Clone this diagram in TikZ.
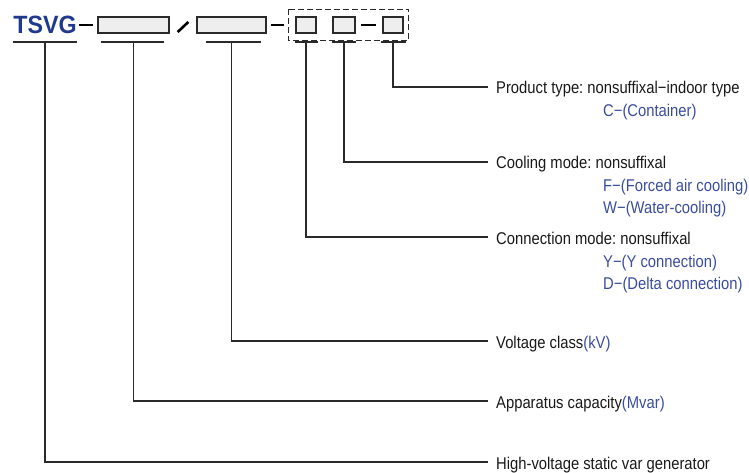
\documentclass[tikz,border=0pt]{standalone}
\usepackage{fontspec}
\setmainfont[FakeStretch=0.87]{Liberation Sans}
\newfontfamily\logofont[FakeStretch=0.93]{Liberation Sans}
\usetikzlibrary{positioning,calc}
\frenchspacing
\definecolor{codeblue}{HTML}{1F3A8C}
\definecolor{optblue}{HTML}{3A4C9E}
\definecolor{linegray}{HTML}{2A2A2A}
\definecolor{boxfill}{HTML}{EEEEEE}
\tikzset{
  field/.style={draw=linegray, fill=boxfill, line width=1.4pt, minimum height=16pt, inner sep=0pt},
  link/.style={draw=linegray, line width=1.3pt},
  joint/.style={draw=black, line width=2.6pt},
  frame/.style={draw=linegray, line width=1.4pt, dash pattern=on 6pt off 3pt},
  desc/.style={anchor=base west, inner xsep=8pt, inner ysep=0pt,
    font=\fontsize{17}{19}\selectfont, text=black!90},
  opt/.style={anchor=base west, inner sep=0pt,
    font=\fontsize{17}{19}\selectfont, text=optblue},
}
\begin{document}
\begin{tikzpicture}[x=1pt, y=-1pt]
    \useasboundingbox (0,0) rectangle (749,473);
    % Model code
    \node[inner sep=0pt, text=codeblue, font=\logofont\bfseries\fontsize{25}{25}\selectfont] (tsvg) at (45,25) {TSVG};
    \node[field, minimum width=71pt] (cap) at (133.5,25) {};
    \node[field, minimum width=69pt] (volt) at (231.5,25) {};
    \node[field, minimum width=20pt] (conn) at (306,25) {};
    \node[field, minimum width=22pt] (cool) at (344,25) {};
    \node[field, minimum width=20pt] (prod) at (393,25) {};
    % Optional suffix frame
    \draw[frame] ([xshift=-7pt,yshift=7pt]conn.north west) rectangle ([xshift=5pt,yshift=-7pt]prod.south east);
    % Joints between fields
    \draw[joint] ([xshift=2pt]tsvg.east) -- ([xshift=-4pt]cap.west);
    \draw[joint] ([xshift=8pt,yshift=-7pt]cap.east) -- ([xshift=-8pt,yshift=3pt]volt.west);
    \draw[joint] ([xshift=4pt]volt.east) -- ([xshift=-11pt]conn.west);
    \draw[joint] ([xshift=5pt]cool.east) -- ([xshift=-6pt]prod.west);
    % Underlines
    \coordinate (ul) at (0,42);
    \foreach \f/\l/\r in {tsvg/0/0, cap/4/-6, volt/10/-6, conn/0/1, cool/0/0, prod/-1/2}
        \draw[link] ($(\f.west |- ul)+(\l,0)$) -- ($(\f.east |- ul)+(\r,0)$);
    % Descriptions
    \node[desc] (prodd) at (488,94) {Product type: nonsuffixal−indoor type};
    \node[opt] (prodc) at (603,117) {C−(Container)};
    \node[desc] (coold) at (488,169) {Cooling mode: nonsuffixal};
    \node[opt] (coolf) at (603,192) {F−(Forced air cooling)};
    \node[opt] (coolw) at (603,214) {W−(Water-cooling)};
    \node[desc] (connd) at (488,244) {Connection mode: nonsuffixal};
    \node[opt] (conny) at (603,267) {Y−(Y connection)};
    \node[opt] (connD) at (603,289) {D−(Delta connection)};
    \node[desc] (voltd) at (488,348) {Voltage class\textcolor{optblue}{(kV)}};
    \node[desc] (capd) at (488,408) {Apparatus capacity\textcolor{optblue}{(Mvar)}};
    \node[desc] (tsvgd) at (488,469) {High-voltage static var generator};
    % Leader lines
    \foreach \f in {prod, cool, conn, volt, cap, tsvg}
        \draw[link] (\f |- ul) |- ([yshift=7pt]\f d.base west);
\end{tikzpicture}
\end{document}
